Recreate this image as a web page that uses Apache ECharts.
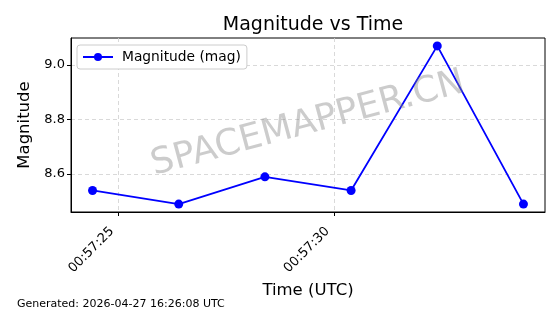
<!DOCTYPE html>
<html><head><meta charset="utf-8">
<script src="https://cdn.jsdelivr.net/npm/echarts@6/dist/echarts.min.js"></script>
<style>html,body{margin:0;padding:0;background:#fff}#c{width:560px;height:314px}</style>
</head><body><div id="c"></div>
<script>
// Observation times (UTC) and magnitudes
var times = ["00:57:24.4", "00:57:26.4", "00:57:28.4", "00:57:30.4", "00:57:32.4", "00:57:34.4"];
var magnitudes = [8.54, 8.49, 8.59, 8.54, 9.07, 8.49];
var xTickLabels = ["00:57:25", "00:57:30"];
var yTickValues = [8.6, 8.8, 9.0];
var seriesName = "Magnitude (mag)";

function toSec(t) {
  var p = t.split(":");
  return (+p[0]) * 3600 + (+p[1]) * 60 + parseFloat(p[2]);
}
function fmt(s) {
  var h = Math.floor(s / 3600), m = Math.floor((s % 3600) / 60), sec = Math.round(s % 60);
  function z(n){return (n<10?"0":"")+n;}
  return z(h)+":"+z(m)+":"+z(sec);
}
var xs = times.map(toSec);
var xTickVals = xTickLabels.map(toSec);
var xMin = Math.min.apply(null, xs), xMax = Math.max.apply(null, xs);
var xPad = (xMax - xMin) * 0.05;
var yMin = Math.min.apply(null, magnitudes), yMax = Math.max.apply(null, magnitudes);
var yPad = (yMax - yMin) * 0.05;
var data = xs.map(function (x, i) { return [x, magnitudes[i]]; });
var FONT = "DejaVu Sans";

var chart = echarts.init(document.getElementById('c'), null, {renderer: 'canvas'});
chart.setOption({
  animation: false,
  backgroundColor: '#fff',
  textStyle: {fontFamily: FONT},
  title: {
    text: 'Magnitude vs Time', left: 308, top: 11, textAlign: 'center',
    textStyle: {fontFamily: FONT, fontSize: 19, fontWeight: 'normal', color: '#000'}
  },
  legend: {
    data: [seriesName], left: 77, top: 45, orient: 'vertical',
    backgroundColor: '#fff', borderColor: '#ccc', borderWidth: 1, borderRadius: 3,
    padding: [5, 6, 5, 5], itemWidth: 30, itemHeight: 10, itemGap: 5,
    textStyle: {fontFamily: FONT, fontSize: 13.8, color: '#000', padding: [0, 0, 0, 4]}
  },
  grid: {left: 71, right: 15, top: 38, bottom: 102, show: true, borderColor: '#000', borderWidth: 1, backgroundColor: 'transparent'},
  xAxis: {
    type: 'value', min: xMin - xPad, max: xMax + xPad,
    name: 'Time (UTC)', nameLocation: 'middle', nameGap: 68,
    nameTextStyle: {fontFamily: FONT, fontSize: 16.5, color: '#000'},
    axisLine: {show: true, onZero: false, lineStyle: {color: '#000', width: 1}},
    axisTick: {show: true, customValues: xTickVals, length: 4, lineStyle: {color: '#000'}},
    axisLabel: {customValues: xTickVals, rotate: 45, formatter: function (v) { return fmt(v); },
      fontFamily: FONT, fontSize: 13, color: '#000', margin: 11, padding: [0, 9, 0, 0]},
    splitLine: {show: true, customValues: xTickVals, lineStyle: {color: '#cfcfcf', type: [4, 3], width: 0.8}}
  },
  yAxis: {
    type: 'value', min: yMin - yPad, max: yMax + yPad,
    name: 'Magnitude', nameLocation: 'middle', nameGap: 38, nameRotate: 90,
    nameTextStyle: {fontFamily: FONT, fontSize: 16.5, color: '#000'},
    axisLine: {show: true, onZero: false, lineStyle: {color: '#000', width: 1}},
    axisTick: {show: true, customValues: yTickValues, length: 4, lineStyle: {color: '#000'}},
    axisLabel: {customValues: yTickValues, formatter: function (v) { return v.toFixed(1); },
      fontFamily: FONT, fontSize: 13, color: '#000', margin: 6},
    splitLine: {show: true, customValues: yTickValues, lineStyle: {color: '#cfcfcf', type: [4, 3], width: 0.8}}
  },
  graphic: [
    {type: 'text', left: 17, top: 299, style: {text: 'Generated: 2026-04-27 16:26:08 UTC', fontFamily: FONT, fontSize: 11, fill: '#000'}},
    {type: 'text', x: 308, y: 124, rotation: 15 * Math.PI / 180, z: 100,
      style: {text: 'SPACEMAPPER.CN', fontFamily: FONT, fontSize: 36, fill: 'rgba(128,128,128,0.4)', align: 'center', verticalAlign: 'middle'}}
  ],
  series: [{
    name: seriesName, type: 'line', data: data,
    symbol: 'circle', symbolSize: 9,
    lineStyle: {color: '#0000ff', width: 1.8},
    itemStyle: {color: '#0000ff'},
    emphasis: {disabled: true}
  }]
});
</script>
</body></html>
